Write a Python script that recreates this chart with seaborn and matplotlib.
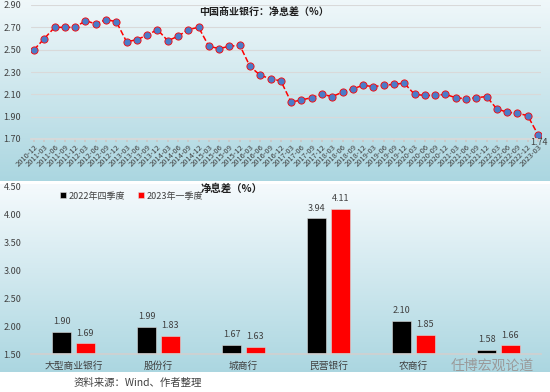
import numpy as np
import pandas as pd
import matplotlib
matplotlib.use('Agg')
import matplotlib.pyplot as plt
import seaborn as sns

# quarterly NIM of Chinese commercial banks, 2010-12 .. 2023-03
quarters = ['2010-12'] + [f'{y}-{m}' for y in range(2011, 2023) for m in ('03', '06', '09', '12')] + ['2023-03']
nim = [2.50, 2.60, 2.70, 2.70, 2.70, 2.76, 2.73, 2.77, 2.75, 2.57,
       2.59, 2.63, 2.68, 2.58, 2.62, 2.68, 2.70, 2.53, 2.51, 2.53,
       2.54, 2.35, 2.27, 2.24, 2.22, 2.03, 2.05, 2.07, 2.10, 2.08,
       2.12, 2.15, 2.18, 2.17, 2.18, 2.19, 2.20, 2.10, 2.09, 2.09,
       2.10, 2.07, 2.06, 2.07, 2.08, 1.97, 1.94, 1.93, 1.91, 1.74]

banks = ['大型商业银行', '股份行', '城商行', '民营银行', '农商行', '外资银行']
bank_labels = ['大型商业银行', '股份行', '城商行', '民营银行', '农商行', '']
q4_2022 = [1.90, 1.99, 1.67, 3.94, 2.10, 1.58]
q1_2023 = [1.69, 1.83, 1.63, 4.11, 1.85, 1.66]
periods = ['2022年四季度', '2023年一季度']

sns.set_theme(style='white')
plt.rcParams['font.family'] = ['Noto Sans CJK SC', 'DejaVu Sans']
plt.rcParams['axes.unicode_minus'] = False

W, H = 550, 392
fig = plt.figure(figsize=(5.5, 3.92), dpi=100)

# background gradients for the two panels
bg = np.ones((H, 1, 3))
top_a, top_b = np.array([0.94, 0.97, 0.98]), np.array([0.67, 0.84, 0.88])
bot_a, bot_b = np.array([0.96, 0.98, 0.99]), np.array([0.67, 0.84, 0.88])
for r in range(0, 181):
    t = r / 180
    bg[r, 0] = top_a * (1 - t) + top_b * t
for r in range(184, 372):
    t = (r - 184) / 188
    bg[r, 0] = bot_a * (1 - t) + bot_b * t
axbg = fig.add_axes([0, 0, 1, 1], zorder=-5)
axbg.imshow(bg, aspect='auto', extent=[0, W, H, 0])
axbg.axis('off')

txt = '#404040'

# ---------- top: line chart ----------
ax1 = fig.add_axes([31 / W, 1 - 139 / H, 510 / W, 134 / H])
ax1.set_facecolor('none')
sns.lineplot(x=np.arange(len(nim)), y=nim, ax=ax1, color='red', linestyle='--',
             linewidth=1.1, marker='o', markersize=5.2, markerfacecolor='#4a7cc9',
             markeredgecolor='red', markeredgewidth=0.6)
ax1.set_xlim(-0.3, len(nim) - 0.7)
ax1.set_ylim(1.70, 2.90)
ax1.set_yticks(np.arange(1.70, 2.91, 0.20))
ax1.set_yticklabels([f'{v:.2f}' for v in np.arange(1.70, 2.91, 0.20)], fontsize=6.5, color=txt)
ax1.set_xticks(np.arange(len(nim)))
ax1.set_xticklabels(quarters, rotation=45, ha='right', rotation_mode='anchor', fontsize=5.4, color=txt)
ax1.grid(axis='y', color='#d9d9d9', linewidth=0.8)
ax1.grid(axis='x', visible=False)
for s in ['top', 'right', 'left']:
    ax1.spines[s].set_visible(False)
ax1.spines['bottom'].set_color('#d9d9d9')
ax1.tick_params(axis='x', length=2, color='#c8c8c8', pad=1, bottom=True)
ax1.tick_params(axis='y', length=0, pad=7)
ax1.set_xlabel('')
ax1.set_ylabel('')
ax1.annotate(f'{nim[-1]:.2f}', (len(nim) - 1, nim[-1]), xytext=(1, -6), textcoords='offset points',
             ha='center', va='center', fontsize=6.5, color=txt)
fig.text(264 / W, 1 - 12 / H, '中国商业银行：净息差（%）', ha='center', va='center',
         fontsize=7.2, fontweight='bold', color='#202020')

# ---------- bottom: bar chart ----------
df = pd.DataFrame({
    'bank': banks * 2,
    'period': [periods[0]] * len(banks) + [periods[1]] * len(banks),
    'value': q4_2022 + q1_2023,
})
ax2 = fig.add_axes([31 / W, 1 - 354 / H, 510 / W, 167 / H])
ax2.set_facecolor('none')
sns.barplot(data=df, x='bank', y='value', hue='period', order=banks, hue_order=periods,
            palette={periods[0]: 'black', periods[1]: 'red'}, saturation=1,
            width=0.56, gap=0.2, ax=ax2, edgecolor='#dddddd', linewidth=0.4)
ax2.set_ylim(1.50, 4.50)
ax2.set_xlim(-0.5, len(banks) - 0.5)
ax2.set_yticks(np.arange(1.50, 4.51, 0.50))
ax2.set_yticklabels([f'{v:.2f}' for v in np.arange(1.50, 4.51, 0.50)], fontsize=6.5, color=txt)
ax2.set_xticks(range(len(banks)))
ax2.set_xticklabels(bank_labels, fontsize=7, color=txt)
ax2.tick_params(axis='x', length=0, pad=5)
ax2.tick_params(axis='y', length=0, pad=7)
for s in ['top', 'right', 'left']:
    ax2.spines[s].set_visible(False)
ax2.spines['bottom'].set_color('#d0d0d0')
ax2.set_xlabel('')
ax2.set_ylabel('')
for c in ax2.containers:
    ax2.bar_label(c, fmt='%.2f', padding=4, fontsize=6.5, color=txt)
ax2.legend(loc='center left', bbox_to_anchor=(52 / W, 1 - 196 / H), bbox_transform=fig.transFigure,
           ncol=2, frameon=False, fontsize=6.5, handlelength=0.6, handleheight=0.6,
           handletextpad=0.3, columnspacing=1.5, labelcolor=txt)
fig.text(232 / W, 1 - 189 / H, '净息差（%）', ha='center', va='center',
         fontsize=7.5, fontweight='bold', color='#202020')

fig.text(138 / W, 1 - 383 / H, '资料来源：Wind、作者整理', ha='center', va='center',
         fontsize=7.5, color=txt)
fig.text(492 / W, 1 - 366 / H, '任博宏观论道', ha='center', va='center',
         fontsize=10, color='#9a9a9a')

fig.savefig('out.png', dpi=100)
